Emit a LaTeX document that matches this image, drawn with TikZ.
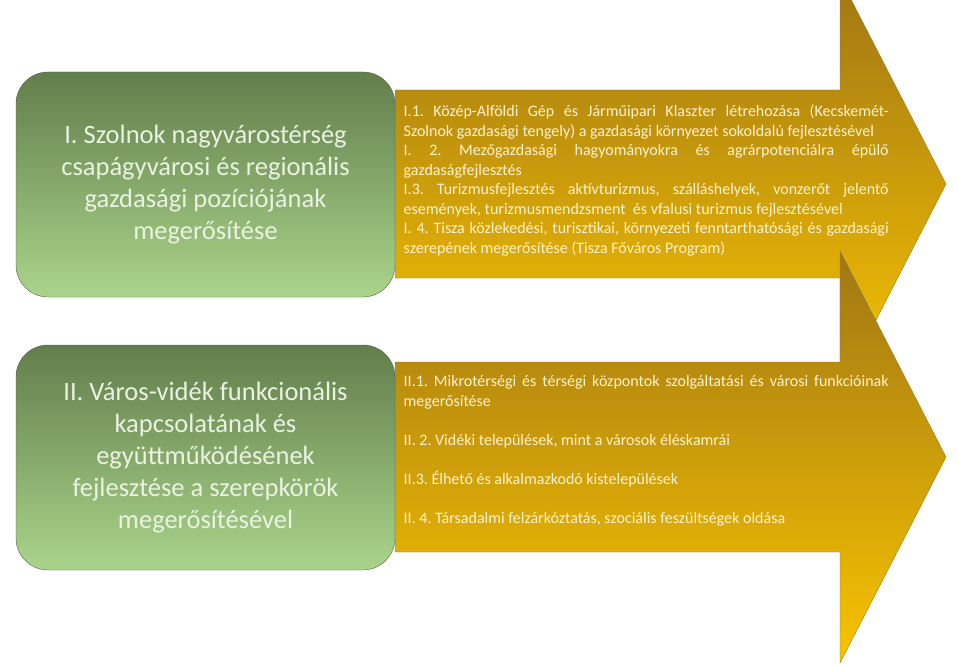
\documentclass[tikz,border=0pt]{standalone}
\usepackage{fontspec}
\setmainfont{Carlito}
\definecolor{goaltop}{RGB}{98,126,76}
\definecolor{goalbottom}{RGB}{170,212,138}
\definecolor{goalline}{RGB}{80,104,70}
\definecolor{goaltext}{RGB}{234,242,226}
\definecolor{arrowtop}{RGB}{160,118,20}
\definecolor{arrowbottom}{RGB}{248,196,0}
\definecolor{arrowline}{RGB}{140,122,70}
\definecolor{itemtext}{RGB}{255,242,204}
\setlength{\parindent}{0pt}
\frenchspacing
\tolerance=10000
\hyphenpenalty=10000
\exhyphenpenalty=10000
\begin{document}
\begin{tikzpicture}[x=1pt, y=-1pt,
  goal/.style={rounded corners=32pt, draw=goalline, top color=goaltop, bottom color=goalbottom,
    text=goaltext, font=\fontsize{26.5}{31.8}\selectfont, align=center,
    minimum width=379pt, minimum height=225pt, inner sep=0pt},
  bigarrow/.style={draw=arrowline, top color=arrowtop, bottom color=arrowbottom},
  items/.style={anchor=base west, text width=485pt, inner sep=0pt, text=itemtext,
    font=\fontsize{16}{19.5}\selectfont, align=justify}]
\useasboundingbox (0,0) rectangle (958,666);
\clip (0,0) rectangle (958,666);

% Arrows
\path[bigarrow] (395,90) -- (840,90) -- (840,-22) -- (946,184) -- (840,390) -- (840,278) -- (395,278) -- cycle;
\path[bigarrow] (395,362) -- (840,362) -- (840,251) -- (946,457) -- (840,663) -- (840,552) -- (395,552) -- cycle;

% Goals
\node[goal] (goalone) at (205.5,184.5) {I. Szolnok nagyvárostérség\\ csapágyvárosi és regionális\\ gazdasági pozíciójának\\ megerősítése};
\node[goal] (goaltwo) at (205.5,457.5) {II. Város-vidék funkcionális\\ kapcsolatának és\\ együttműködésének\\ fejlesztése a szerepkörök\\ megerősítésével};

% Items
\node[items] (itemsone) at (403.5,117) {I.1. Közép-Alföldi Gép és Járműipari Klaszter létrehozása (Kecskemét-\linebreak Szolnok gazdasági tengely) a gazdasági környezet sokoldalú fejlesztésével\par
I. 2. Mezőgazdasági hagyományokra és agrárpotenciálra épülő\linebreak gazdaságfejlesztés\par
I.3. Turizmusfejlesztés aktívturizmus, szálláshelyek, vonzerőt jelentő\linebreak események, turizmusmendzsment\ \ és vfalusi turizmus fejlesztésével\par
I. 4. Tisza közlekedési, turisztikai, környezeti fenntarthatósági és gazdasági\linebreak szerepének megerősítése (Tisza Főváros Program)};
\node[items] (itemstwo) at (403.5,386.7) {II.1. Mikrotérségi és térségi központok szolgáltatási és városi funkcióinak\linebreak megerősítése\par\vspace{19.5pt}
II. 2. Vidéki települések, mint a városok éléskamrái\par\vspace{19.5pt}
II.3. Élhető és alkalmazkodó kistelepülések\par\vspace{19.5pt}
II. 4. Társadalmi felzárkóztatás, szociális feszültségek oldása};
\end{tikzpicture}
\end{document}
